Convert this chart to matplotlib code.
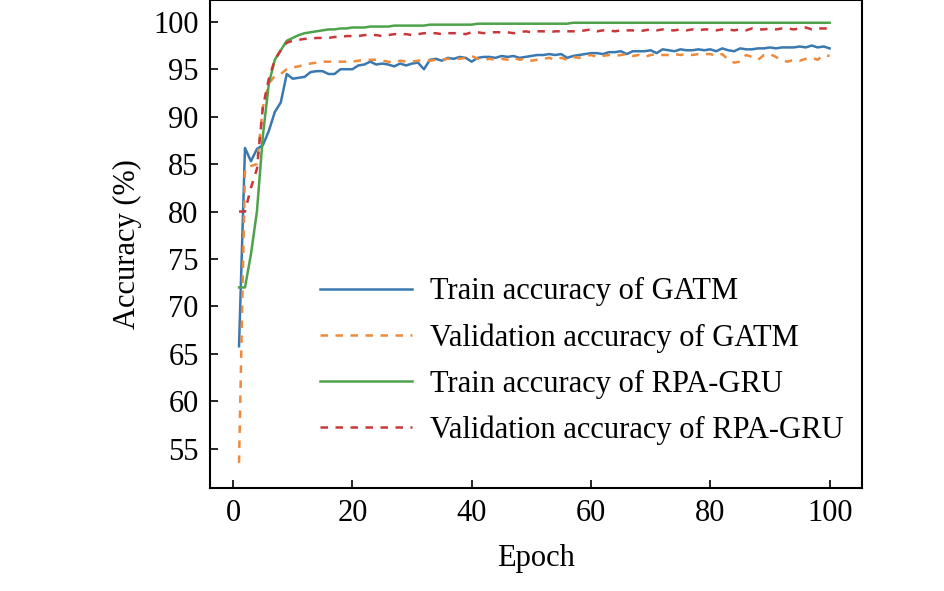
import matplotlib.pyplot as plt

epochs = list(range(1, 101))

gatm_train = [65.8, 86.7, 85.3, 86.6, 87.0, 88.5, 90.5, 91.5, 94.5, 94.0,
              94.1, 94.2, 94.7, 94.8, 94.8, 94.5, 94.5, 95.0, 95.0, 95.0,
              95.4, 95.5, 95.8, 95.5, 95.6, 95.5, 95.3, 95.6, 95.4, 95.6,
              95.7, 95.0, 96.0, 96.1, 95.9, 96.2, 96.1, 96.3, 96.2, 95.8,
              96.2, 96.3, 96.3, 96.2, 96.4, 96.3, 96.4, 96.2, 96.3, 96.4,
              96.5, 96.5, 96.6, 96.5, 96.6, 96.2, 96.4, 96.5, 96.6, 96.7,
              96.7, 96.6, 96.8, 96.8, 96.9, 96.6, 96.9, 96.9, 96.9, 97.0,
              96.7, 97.1, 97.0, 96.9, 97.1, 97.0, 97.0, 97.1, 97.0, 97.1,
              96.9, 97.2, 97.0, 96.9, 97.2, 97.1, 97.1, 97.2, 97.2, 97.3,
              97.2, 97.3, 97.3, 97.3, 97.4, 97.3, 97.5, 97.3, 97.4, 97.2]
gatm_val = [53.5, 84.5, 84.8, 85.0, 91.0, 93.5, 94.3, 94.5, 95.0, 95.2,
            95.3, 95.5, 95.6, 95.7, 95.8, 95.8, 95.8, 95.8, 95.8, 95.8,
            95.9, 96.0, 96.0, 96.0, 95.9, 95.8, 95.7, 95.9, 95.8, 95.8,
            95.9, 96.0, 95.9, 96.0, 96.0, 96.1, 96.1, 96.1, 96.2, 96.4,
            96.1, 96.0, 96.1, 96.0, 96.1, 96.0, 96.2, 96.0, 96.1, 95.9,
            96.0, 96.1, 96.2, 96.0, 96.2, 96.0, 96.3, 96.2, 96.4, 96.5,
            96.3, 96.4, 96.5, 96.4, 96.5, 96.6, 96.4, 96.5, 96.3, 96.5,
            96.6, 96.5, 96.5, 96.6, 96.5, 96.6, 96.5, 96.6, 96.6, 96.6,
            96.4, 96.6, 96.0, 95.7, 95.8, 96.5, 96.3, 96.0, 96.5, 96.6,
            96.3, 95.9, 95.8, 96.0, 95.9, 96.1, 96.2, 96.0, 96.5, 96.4]
rpa_train = [72.0, 72.0, 75.5, 80.0, 88.0, 93.5, 96.0, 97.0, 98.0, 98.3,
             98.6, 98.8, 98.9, 99.0, 99.1, 99.2, 99.2, 99.3, 99.3, 99.4,
             99.4, 99.4, 99.5, 99.5, 99.5, 99.5, 99.6, 99.6, 99.6, 99.6,
             99.6, 99.6, 99.7, 99.7, 99.7, 99.7, 99.7, 99.7, 99.7, 99.7,
             99.8, 99.8, 99.8, 99.8, 99.8, 99.8, 99.8, 99.8, 99.8, 99.8,
             99.8, 99.8, 99.8, 99.8, 99.8, 99.8, 99.9, 99.9, 99.9, 99.9,
             99.9, 99.9, 99.9, 99.9, 99.9, 99.9, 99.9, 99.9, 99.9, 99.9,
             99.9, 99.9, 99.9, 99.9, 99.9, 99.9, 99.9, 99.9, 99.9, 99.9,
             99.9, 99.9, 99.9, 99.9, 99.9, 99.9, 99.9, 99.9, 99.9, 99.9,
             99.9, 99.9, 99.9, 99.9, 99.9, 99.9, 99.9, 99.9, 99.9, 99.9]
rpa_val = [80.0, 80.0, 82.5, 84.5, 91.0, 94.0, 96.0, 97.0, 97.8, 98.0,
           98.1, 98.2, 98.2, 98.3, 98.3, 98.3, 98.4, 98.4, 98.5, 98.5,
           98.5, 98.6, 98.6, 98.6, 98.5, 98.6, 98.7, 98.7, 98.7, 98.6,
           98.7, 98.8, 98.8, 98.8, 98.7, 98.8, 98.8, 98.8, 98.7, 98.9,
           98.9, 98.8, 98.9, 98.9, 98.9, 98.9, 98.8, 98.9, 99.0, 98.9,
           99.0, 99.0, 98.9, 99.0, 99.0, 99.0, 99.0, 99.0, 99.1, 99.2,
           99.0, 99.1, 99.1, 99.0, 99.1, 99.1, 99.1, 99.0, 99.1, 99.2,
           99.1, 99.2, 99.1, 99.1, 99.2, 99.1, 99.2, 99.1, 99.2, 99.2,
           99.1, 99.2, 99.2, 99.1, 99.2, 99.1, 99.3, 99.2, 99.2, 99.3,
           99.2, 99.3, 99.3, 99.2, 99.3, 99.4, 99.2, 99.3, 99.3, 99.3]

plt.rcParams['font.family'] = ['Liberation Serif', 'DejaVu Serif']
plt.rcParams['font.size'] = 22

fig = plt.figure(figsize=(9.45, 5.91), dpi=100)
ax = fig.add_axes([0.222, 0.175, 0.69, 0.825])
ax.plot(epochs, gatm_train, color='#3a78b0', lw=1.8, label='Train accuracy of GATM')
ax.plot(epochs, gatm_val, color='#ef8a3c', lw=1.8, ls=(0, (3, 3)), label='Validation accuracy of GATM')
ax.plot(epochs, rpa_train, color='#4ea24a', lw=1.8, label='Train accuracy of RPA-GRU')
ax.plot(epochs, rpa_val, color='#c8383a', lw=1.8, ls=(0, (3, 3)), label='Validation accuracy of RPA-GRU')

ax.set_xlim(-3.9, 105.4)
ax.set_ylim(50.9, 102.3)
ax.set_xticks([0, 20, 40, 60, 80, 100])
ax.set_yticks(list(range(55, 101, 5)))
ax.tick_params(direction='in', length=6, width=1.2, pad=8)
for s in ax.spines.values():
    s.set_linewidth(1.5)
ax.set_xlabel('Epoch', labelpad=12)
ax.set_ylabel('Accuracy (%)', labelpad=8)
ax.legend(loc='lower right', frameon=False, handlelength=3.0, handletextpad=0.6,
          labelspacing=0.55, borderaxespad=0.2, bbox_to_anchor=(1.0, 0.05))
fig.savefig('out.png', dpi=100)
